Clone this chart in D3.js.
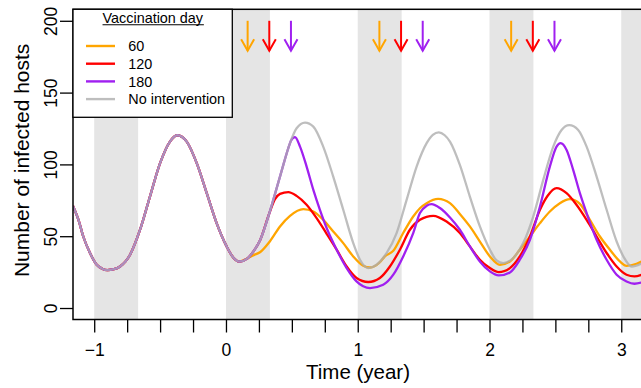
<!DOCTYPE html>
<html><head><meta charset="utf-8">
<script src="https://cdn.jsdelivr.net/npm/d3@7/dist/d3.min.js"></script>
<style>
body{margin:0;background:#fff;}
svg{display:block;font-family:"Liberation Sans", Arial, Helvetica, sans-serif;}
</style>
</head><body>
<svg id="chart" width="641" height="388"></svg>
<script>
// ---------------- data ----------------
// shared trajectory before the first vaccination (day 60 of year 0)
const sharedTime  = [-1.161,-1.12,-1.083,-1.032,-0.981,-0.94,-0.90,-0.85,-0.804,-0.728,-0.652,-0.577,-0.50,-0.425,-0.37,-0.298,-0.222,-0.146,-0.071,0.005,0.055,0.101,0.164];
const sharedValue = [71,61.5,49.8,38.3,30.1,27.4,26.4,27.0,28.9,37.1,54.5,77.6,100.9,115.9,120.3,115.9,100.9,80,59.1,42.9,35.2,32.4,34.6];

const grayTime  = [0.21,0.258,0.334,0.41,0.486,0.536,0.60,0.663,0.738,0.814,0.89,0.966,1.017,1.08,1.143,1.219,1.295,1.371,1.447,1.523,1.57,1.615,1.66,1.70,1.775,1.851,1.927,2.003,2.054,2.104,2.18,2.256,2.332,2.408,2.484,2.547,2.605,2.673,2.737,2.813,2.889,2.965,3.016,3.08,3.165];
const grayValue = [39.6,47,67.5,91.5,114.8,125.2,129.1,126.3,112.4,91.5,68.4,45.2,33.6,27.8,30.1,38.3,52.2,75.3,98.5,114.8,120.6,122.3,120.3,115.9,99.7,77.6,56.8,40.6,33.1,31.3,34.8,45.2,63.7,89.2,112.4,124,127.3,124,112.4,91.5,68.4,46.3,35.9,28.9,31.5];

const orangeTime  = [0.21,0.258,0.334,0.41,0.486,0.587,0.663,0.738,0.814,0.89,0.966,1.042,1.093,1.164,1.206,1.27,1.345,1.421,1.472,1.523,1.61,1.70,1.775,1.851,1.927,2.003,2.079,2.155,2.23,2.307,2.383,2.458,2.534,2.61,2.686,2.762,2.838,2.914,2.99,3.04,3.116,3.165];
const orangeValue = [36.8,38.8,46.5,56.8,64.2,68.9,67.2,61.4,53.3,45.2,35.9,29.4,28.2,31.5,36,39.8,52.2,63.7,69.5,73,76,73,65.5,56.8,46.3,35.9,30.1,32.4,40.6,49.8,59.1,67.2,73,75.8,72.5,61.4,49.8,40.6,32.4,29.4,30.8,32.8];

const redTime  = [0.21,0.258,0.329,0.372,0.41,0.473,0.536,0.612,0.688,0.764,0.84,0.916,0.991,1.08,1.168,1.244,1.32,1.396,1.472,1.573,1.674,1.775,1.851,1.927,2.0,2.07,2.155,2.23,2.307,2.383,2.44,2.509,2.585,2.66,2.737,2.813,2.889,2.965,3.04,3.1,3.165];
const redValue = [39.6,47,66,75.8,79.5,80.7,78.1,71.9,62.6,51.7,40.6,28.9,20.9,18.1,20.9,28.9,40.6,54.5,61.4,64.2,60.2,52.2,42.9,33.6,28,25,27.8,35.9,49.8,68.4,78,83.5,80,71.9,61.4,49.8,38.3,28.9,23.2,22,23.5];

const purpleTime  = [0.21,0.258,0.334,0.41,0.486,0.493,0.524,0.562,0.612,0.663,0.713,0.764,0.84,0.916,0.991,1.093,1.193,1.27,1.345,1.421,1.472,1.523,1.56,1.624,1.70,1.775,1.851,1.927,2.003,2.07,2.155,2.23,2.307,2.383,2.458,2.509,2.54,2.585,2.635,2.686,2.737,2.813,2.889,2.965,3.04,3.1,3.165];
const purpleValue = [39.6,47,67.5,91.5,114.8,116.5,119,112.4,98.5,82.3,68.4,55.7,40.6,27.8,18.5,13.9,16.2,23.2,35.9,52.2,66.1,71.2,72.3,69.6,63,54.5,42.9,32.4,25.5,22.7,24.8,33.6,47.5,70.7,98.5,112.4,114.8,110.1,96.2,80,66.1,47.5,33.6,23.2,18.5,16.9,18];

const legendLabels = ["60","120","180","No intervention"];
const seriesColors = ["#FFA500","#FF0000","#A020F0","#BEBEBE"];
const vaccinationDays = [60,120,180];
const arrowYears = [0,1,2];
const bandStarts = [-1,0,1,2,3];
const xMajorTicks = [-1,0,1,2,3];
const xMinorTicks = d3.range(-1,3.01,0.25);
const yTicks = [0,50,100,150,200];

// ---------------- layout ----------------
const svg = d3.select("#chart");
const L = 73, R = 643, T = 9.3, B = 319.5;
const x = d3.scaleLinear().domain([-1.161, 3.165]).range([L, R]);
const y = d3.scaleLinear().domain([-8, 208]).range([B, T]);

svg.append("defs").append("clipPath").attr("id","plotclip")
  .append("rect").attr("x",L).attr("y",T).attr("width",R-L).attr("height",B-T);

// shaded bands (first third of each year)
svg.append("g").attr("clip-path","url(#plotclip)")
  .selectAll("rect").data(bandStarts).join("rect")
  .attr("x", d => x(d)).attr("y", T)
  .attr("width", d => x(d + 1/3) - x(d)).attr("height", B - T)
  .attr("fill", "#E5E5E5");

// series
const zip = (ts, vs) => ts.map((t,i) => ({t, v: vs[i]}));
const shared = zip(sharedTime, sharedValue);
const series = [
  {name:"60", color:seriesColors[0], pts: shared.concat(zip(orangeTime, orangeValue))},
  {name:"120", color:seriesColors[1], pts: shared.concat(zip(redTime, redValue))},
  {name:"180", color:seriesColors[2], pts: shared.concat(zip(purpleTime, purpleValue))},
];
const graySeries = shared.concat(zip(grayTime, grayValue));

const line = d3.line().x(d => x(d.t)).y(d => y(d.v)).curve(d3.curveMonotoneX);
const gLines = svg.append("g").attr("clip-path","url(#plotclip)");
gLines.selectAll("path.s").data(series).join("path").attr("class","s")
  .attr("d", d => line(d.pts)).attr("fill","none")
  .attr("stroke", d => d.color).attr("stroke-width", 2.3);
gLines.append("path").attr("d", line(graySeries)).attr("fill","none")
  .attr("stroke", "#AEAEAE").attr("stroke-opacity", 0.8).attr("stroke-width", 2.3);

// arrows marking vaccination days
const gArr = svg.append("g");
arrowYears.forEach(yr => {
  vaccinationDays.forEach((day, i) => {
    const cx = x(yr + day/365), y0 = y(200), y1 = y(179.2);
    gArr.append("line").attr("x1",cx).attr("x2",cx).attr("y1",y0).attr("y2",y1)
      .attr("stroke", seriesColors[i]).attr("stroke-width", 2);
    gArr.append("path")
      .attr("d", `M${cx-6.5},${y1-11.3}L${cx},${y1}L${cx+6.5},${y1-11.3}`)
      .attr("fill","none").attr("stroke", seriesColors[i]).attr("stroke-width", 2);
  });
});

// axes
const xAxis = d3.axisBottom(x).tickValues(xMinorTicks).tickSize(13)
  .tickFormat(d => xMajorTicks.includes(d) ? d3.format("d")(d).replace("-", "\u2212") : "");
const gx = svg.append("g").attr("transform", `translate(0,${B})`).call(xAxis);
gx.select(".domain").remove();
gx.selectAll(".tick line").attr("stroke","#000").attr("stroke-width",1.3);
gx.selectAll(".tick text").attr("y", 36.2).attr("dy", 0)
  .attr("font-size", 17.5).attr("font-family","Liberation Sans, Arial, sans-serif").attr("fill","#000");

const yAxis = d3.axisLeft(y).tickValues(yTicks).tickSize(13);
const gy = svg.append("g").attr("transform", `translate(${L},0)`).call(yAxis);
gy.select(".domain").remove();
gy.selectAll(".tick line").attr("stroke","#000").attr("stroke-width",1.3);
gy.selectAll(".tick text").attr("x",0).attr("dy",0).attr("text-anchor","middle")
  .attr("transform","translate(-16,0) rotate(-90)")
  .attr("font-size", 17.5).attr("font-family","Liberation Sans, Arial, sans-serif").attr("fill","#000");

// plot box
svg.append("rect").attr("x",L).attr("y",T).attr("width",R-L).attr("height",B-T)
  .attr("fill","none").attr("stroke","#000").attr("stroke-width",1.5);

// axis titles
svg.append("text").attr("x", (L+R)/2).attr("y", 378.5).attr("text-anchor","middle")
  .attr("font-size", 20.5).text("Time (year)");
svg.append("text").attr("transform", `translate(29,${(T+B)/2 - 4}) rotate(-90)`)
  .attr("text-anchor","middle").attr("font-size", 21).text("Number of infected hosts");

// legend
const lg = svg.append("g");
lg.append("rect").attr("x", L).attr("y", T).attr("width", 159.3).attr("height", 108)
  .attr("fill","#fff").attr("stroke","#000").attr("stroke-width",1.3);
const title = lg.append("text").attr("x", 152.8).attr("y", 23).attr("text-anchor","middle")
  .attr("font-size", 14.4).text("Vaccination day");
const bb = title.node().getBBox();
lg.append("line").attr("x1", bb.x).attr("x2", bb.x + bb.width).attr("y1", 24.8).attr("y2", 24.8)
  .attr("stroke","#000").attr("stroke-width",1.1);
legendLabels.forEach((lab, i) => {
  const cy = 46 + i*17.7;
  lg.append("line").attr("x1", 86).attr("x2", 115).attr("y1", cy).attr("y2", cy)
    .attr("stroke", seriesColors[i]).attr("stroke-width", 2.4);
  lg.append("text").attr("x", 128.3).attr("y", cy + 5.2).attr("font-size", 14.4).text(lab);
});
</script>
</body></html>
